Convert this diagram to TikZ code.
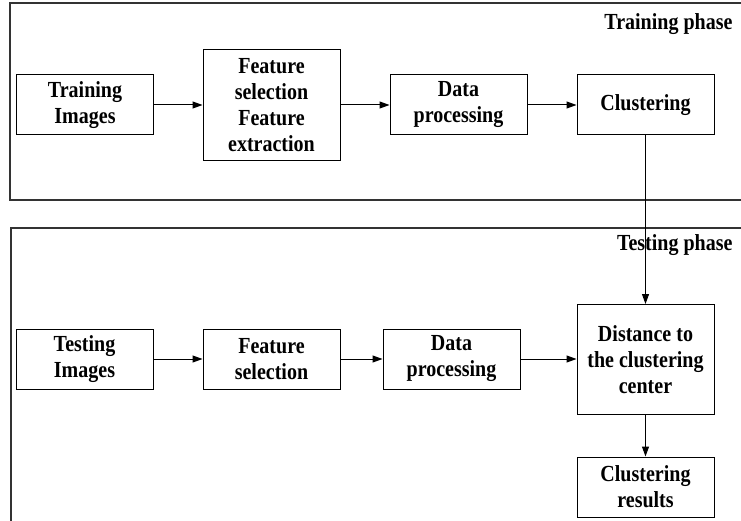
\documentclass[tikz,border=0pt]{standalone}
\usepackage{fontspec}
\setmainfont{Liberation Serif}
\newfontfamily\figfont[FakeStretch=0.87]{Liberation Serif}
\usetikzlibrary{arrows.meta}
\begin{document}
\begin{tikzpicture}[x=1pt,y=-1pt,
    txt/.style={font=\figfont\fontsize{23}{26}\selectfont\bfseries},
    blk/.style={txt,draw,line width=1pt,minimum width=137pt,minimum height=60pt,
      align=center,inner sep=0pt},
    arr/.style={line width=1pt,-{Triangle[length=10pt,width=7pt]}}]
        \useasboundingbox (0,0) rectangle (741,521);
        \clip (0,0) rectangle (741,521);

        % phase frames
        \draw[line width=1.2pt,black!80] (10,3) rectangle (760,200);
        \draw[line width=1.2pt,black!80] (11,228) rectangle (760,540);
        \node[txt,anchor=east] (trp) at (736,24) {Training phase};
        \node[txt,anchor=east] (tsp) at (736,245) {Testing phase};

        % training row
        \node[blk] (ti) at (85,105) {Training\\Images};
        \node[blk,minimum height=111pt] (fs) at (271.5,105.5) {Feature\\selection\\Feature\\extraction};
        \node[blk] (dp) at (458.5,105) {Data\\processing};
        \node[blk] (cl) at (645.5,105) {Clustering};

        % testing row
        \node[blk] (tsi) at (84.5,359) {Testing\\Images};
        \node[blk] (fsb) at (271.5,359) {Feature\\selection};
        \node[blk] (dpb) at (451.5,359) {Data\\processing};
        \node[blk,minimum height=110pt] (dist) at (645.5,359.5) {Distance to\\the clustering\\center};
        \node[blk] (res) at (645.5,487) {Clustering\\results};

        \draw[arr] (ti) -- (fs.west |- ti);
        \draw[arr] (fs.east |- dp) -- (dp);
        \draw[arr] (dp) -- (cl);
        \draw[arr] (tsi) -- (fsb);
        \draw[arr] (fsb) -- (dpb);
        \draw[arr] (dpb) -- (dist.west |- dpb);
        \draw[arr] (cl) -- (dist);
        \draw[arr] (dist) -- (res);
\end{tikzpicture}
\end{document}
